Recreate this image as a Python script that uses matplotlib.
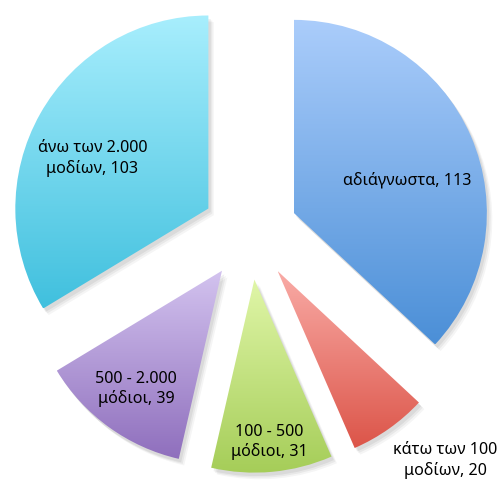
import matplotlib
matplotlib.use("Agg")
import matplotlib.pyplot as plt
import numpy as np
from matplotlib.colors import to_rgba
from matplotlib.patches import Wedge

labels = ['αδιάγνωστα, 113', 'κάτω των 100\nμοδίων, 20', '100 - 500\nμόδιοι, 31',
          '500 - 2.000\nμόδιοι, 39', 'άνω των 2.000\nμοδίων, 103']
values = [113, 20, 31, 39, 103]

# gradient top -> bottom for each slice
top_colors = ['#abcdfb', '#f9aba6', '#e0f6a8', '#d3c3ef', '#a8eefd']
bottom_colors = ['#4b8fd7', '#dc5549', '#a5cd58', '#8f6fbd', '#40c0de']

# label positions (data units, pie radius = 1)
label_pos = [(0.805, 0.267), (1.0, -1.174), (0.097, -1.077),
             (-0.585, -0.805), (-0.808, 0.379)]

plt.rcParams['font.family'] = ['Noto Sans', 'DejaVu Sans']

fig = plt.figure(figsize=(5.01, 4.82), dpi=100)
ax = fig.add_axes([0, 0, 1, 1])

wedges, _ = ax.pie(values, startangle=90, counterclock=False,
                   explode=[0.245] * len(values), radius=0.99)

for w, c1, c2 in zip(wedges, top_colors, bottom_colors):
    w.set_facecolor('none')
    w.set_edgecolor('none')
    # soft shadow
    for k, a in enumerate([0.06, 0.05, 0.04]):
        sh = Wedge((w.center[0] + 0.012 + 0.008 * k, w.center[1] - 0.018 - 0.008 * k),
                   w.r, w.theta1, w.theta2, facecolor='black', alpha=a,
                   edgecolor='none', zorder=0)
        ax.add_patch(sh)
    verts = w.get_path().vertices
    x0, x1 = verts[:, 0].min(), verts[:, 0].max()
    y0, y1 = verts[:, 1].min(), verts[:, 1].max()
    t = np.linspace(0, 1, 256)[:, None]
    ca, cb = np.array(to_rgba(c1)), np.array(to_rgba(c2))
    grad = (ca * (1 - t) + cb * t)[:, None, :]
    im = ax.imshow(grad, extent=(x0, x1, y0, y1), origin='upper',
                   aspect='auto', zorder=1, interpolation='bilinear')
    im.set_clip_path(w)

for lab, (x, y) in zip(labels, label_pos):
    ax.text(x, y, lab, ha='center', va='center', fontsize=11.6,
            color='black', linespacing=1.3, zorder=3)

s = 195.0
ax.set_xlim(-250 / s, 251 / s)
ax.set_ylim(-250 / s, 232 / s)
ax.set_aspect('auto')
ax.axis('off')

fig.savefig('out.png', dpi=100)
